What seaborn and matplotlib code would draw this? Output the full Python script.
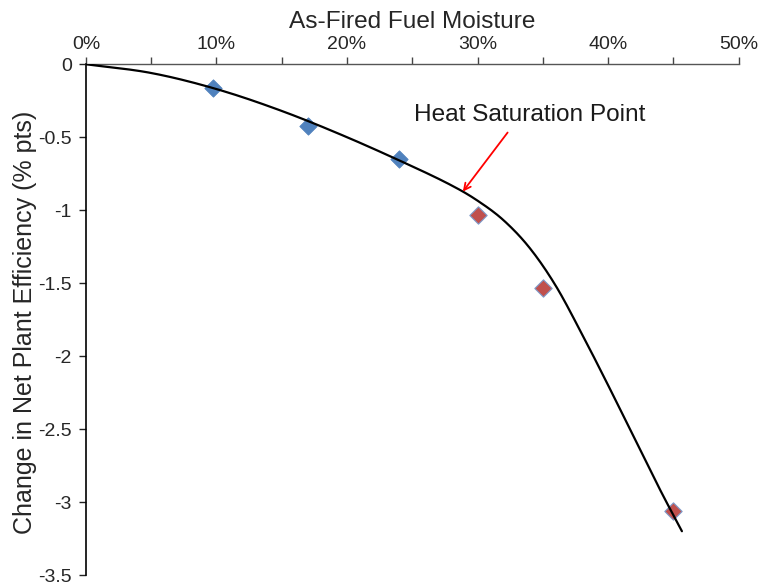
import numpy as np
import pandas as pd
import matplotlib
matplotlib.use("Agg")
import matplotlib.pyplot as plt
from matplotlib.ticker import MultipleLocator, FuncFormatter
import seaborn as sns

# Measured points
blue_x = [9.7, 17.0, 24.0]
blue_y = [-0.16, -0.42, -0.65]
red_x = [30.0, 35.0, 45.0]
red_y = [-1.03, -1.53, -3.06]

# Trend curve
curve_x = [0, 5, 10, 15, 20, 25, 28, 30, 32, 34, 36, 38, 40, 42, 44, 45.65]
curve_y = [0, -0.06, -0.17, -0.32, -0.50, -0.70, -0.83, -0.935, -1.07, -1.26,
           -1.52, -1.85, -2.20, -2.56, -2.92, -3.20]

x_ticks = [0, 10, 20, 30, 40, 50]
y_ticks = [0, -0.5, -1, -1.5, -2, -2.5, -3, -3.5]


def catmull_rom(xs, ys, n=24):
    P = np.column_stack([xs, ys]).astype(float)
    P = np.vstack([2 * P[0] - P[1], P, 2 * P[-1] - P[-2]])
    out = []
    t = np.linspace(0, 1, n, endpoint=False)[:, None]
    for i in range(1, len(P) - 2):
        p0, p1, p2, p3 = P[i - 1], P[i], P[i + 1], P[i + 2]
        seg = 0.5 * ((2 * p1) + (-p0 + p2) * t + (2 * p0 - 5 * p1 + 4 * p2 - p3) * t ** 2
                     + (-p0 + 3 * p1 - 3 * p2 + p3) * t ** 3)
        out.append(seg)
    out.append(P[-2][None, :])
    return np.vstack(out)


sns.set_style("white")
plt.rcParams["font.family"] = ["Liberation Sans", "DejaVu Sans"]

fig = plt.figure(figsize=(7.6, 5.84), dpi=100)
ax = fig.add_axes([0.113, 0.0154, 0.859, 0.8746])

smooth = catmull_rom(curve_x, curve_y)
curve_df = pd.DataFrame({"x": smooth[:, 0], "y": smooth[:, 1]})
sns.lineplot(data=curve_df, x="x", y="y", sort=False, estimator=None,
             color="black", linewidth=1.6, ax=ax, zorder=3)

sns.scatterplot(x=blue_x, y=blue_y, marker="D", s=78, color="#4F81BD",
                edgecolor="#4F81BD", linewidth=0.6, ax=ax, zorder=2)
sns.scatterplot(x=red_x, y=red_y, marker="D", s=78, color="#C0504D",
                edgecolor="#7E9BCB", linewidth=0.8, ax=ax, zorder=2)

ax.annotate("", xy=(28.87, -0.873), xytext=(32.3, -0.468),
            arrowprops=dict(arrowstyle="->", color="red", lw=1.3,
                            shrinkA=0, shrinkB=0, mutation_scale=12))
ax.text(25.15, -0.35, "Heat Saturation Point", fontsize=17.6, ha="left",
        va="center", color="#1a1a1a")

ax.set_xlim(0, 50)
ax.set_ylim(-3.5, 0)
ax.xaxis.tick_top()
ax.xaxis.set_label_position("top")
ax.xaxis.set_major_locator(MultipleLocator(5))
ax.xaxis.set_major_formatter(FuncFormatter(lambda v, p: f"{int(round(v))}%" if int(round(v)) % 10 == 0 else ""))
ax.set_yticks(y_ticks)
ax.set_yticklabels([("%g" % v) for v in y_ticks])

ax.set_xlabel("As-Fired Fuel Moisture", fontsize=17.6, labelpad=6)
ax.set_ylabel("Change in Net Plant Efficiency (% pts)", fontsize=18)
ax.yaxis.set_label_coords(-0.075, 0.495)

ax.tick_params(axis="x", which="major", direction="out", length=5, width=1,
               labelsize=14, pad=3, color="#444444", top=True, bottom=False)
ax.tick_params(axis="y", which="major", direction="out", length=5, width=1,
               labelsize=14, pad=5, color="#222222", left=True)

for side in ["right", "bottom"]:
    ax.spines[side].set_visible(False)
ax.spines["top"].set_color("#555555")
ax.spines["top"].set_linewidth(1.0)
ax.spines["left"].set_color("black")
ax.spines["left"].set_linewidth(1.2)

fig.savefig("out.png", dpi=100)
